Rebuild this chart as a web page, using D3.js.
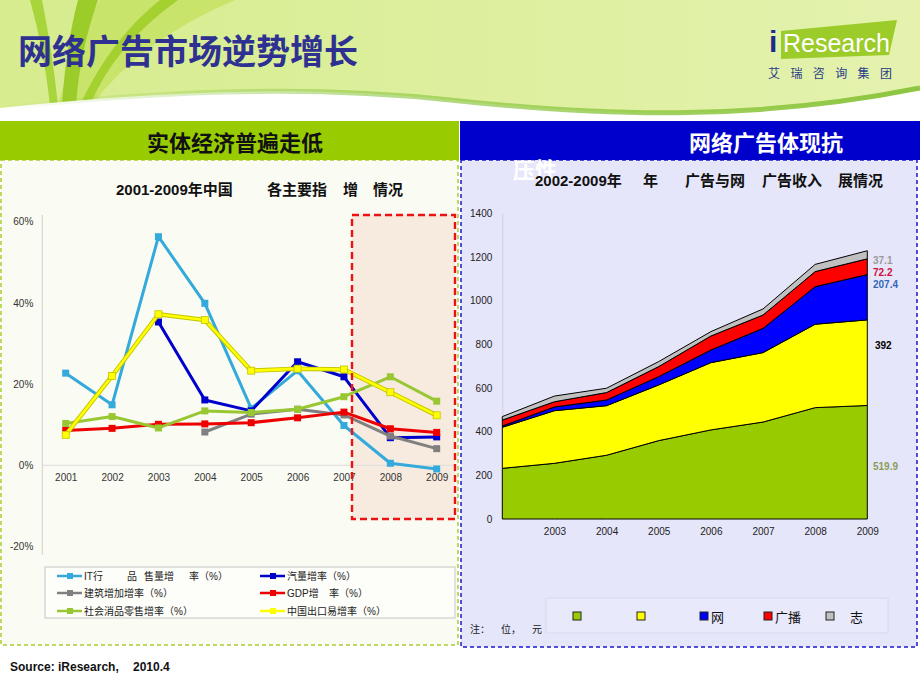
<!DOCTYPE html>
<html><head><meta charset="utf-8">
<script src="https://cdn.jsdelivr.net/npm/d3@7"></script>
<style>
body{margin:0;background:#fff}
svg{display:block}
text{font-family:"Liberation Sans","Noto Sans CJK SC",sans-serif}
.cjk{font-family:"Noto Sans CJK SC","Liberation Sans",sans-serif}
</style>
</head><body>
<svg id="c" width="920" height="690"></svg>
<script>
// ---------- data ----------
const leftYears = ["2001","2002","2003","2004","2005","2006","2007","2008","2009"];
const itSales      = [22.7, 14.9, 56.3, 39.9, 14.0, 23.3, 9.8, 0.5, -0.9];
const autoGrowth   = [null, null, 35.3, 16.1, 13.4, 25.5, 21.8, 6.8, 7.0];
const construction = [null, null, null, 8.2, 12.6, 13.8, 12.4, 7.2, 4.1];
const gdpGrowth    = [8.6, 9.1, 10.1, 10.2, 10.5, 11.7, 13.1, 9.0, 8.1];
const retailGrowth = [10.3, 12.0, 9.2, 13.4, 13.0, 13.8, 16.9, 21.8, 15.8];
const exportGrowth = [7.5, 22.0, 37.2, 35.8, 23.3, 23.8, 23.6, 18.0, 12.3];
const leftTicks = [-20, 0, 20, 40, 60];
const leftSeriesNames = ["IT行\u3000\u3000品\u3000售量增\u3000率（%）","汽量增率（%）","建筑增加增率（%）","GDP增\u3000率（%）","社会消品零售增率（%）","中国出口易增率（%）"];

const rightYears = ["2002","2003","2004","2005","2006","2007","2008","2009"];
const tvRevenue       = [232, 255, 292, 359, 408, 444, 510, 519.9];
const paperRevenue    = [188, 241, 227, 255, 308, 318, 382, 392];
const onlineRevenue   = [6, 17, 26, 38, 58, 111, 172, 207.4];
const radioRevenue    = [27, 24, 34, 46, 64, 61, 69, 72.2];
const magazineRevenue = [16, 26, 20, 23, 20, 28, 33, 37.1];
const rightTicks = [0, 200, 400, 600, 800, 1000, 1200, 1400];
const rightLegendNames = ["", "", "网", "广播", "\u3000志"];
const endLabels = ["519.9", "392", "207.4", "72.2", "37.1"];

// ---------- canvas ----------
const svg = d3.select("#c");
const defs = svg.append("defs");
const hg = defs.append("linearGradient").attr("id","hg").attr("x1","0").attr("x2","1").attr("y1","0").attr("y2","0");
hg.append("stop").attr("offset","0").attr("stop-color","#d6ec8e");
hg.append("stop").attr("offset","1").attr("stop-color","#e4f2ae");
const cg = defs.append("linearGradient").attr("id","cg").attr("x1","0").attr("x2","1").attr("y1","0").attr("y2","0");
cg.append("stop").attr("offset","0").attr("stop-color","#8cc63f").attr("stop-opacity","0");
cg.append("stop").attr("offset","0.4").attr("stop-color","#8cc63f").attr("stop-opacity","0.6");
cg.append("stop").attr("offset","1").attr("stop-color","#8cc63f").attr("stop-opacity","1");

// header background
svg.append("rect").attr("x",0).attr("y",0).attr("width",920).attr("height",125).attr("fill","url(#hg)");
svg.append("path").attr("d","M100,0 L235,0 Q140,40 92,105 L58,105 Q75,40 100,0 Z").attr("fill","#c8e46a");
svg.append("path").attr("d","M30,0 L42,0 Q52,50 58,105 L50,105 Q44,50 30,0 Z").attr("fill","#a8d43c");
svg.append("path").attr("d","M78,0 L98,0 Q80,50 76,105 L62,105 Q66,45 78,0 Z").attr("fill","#9ccc2a");
svg.append("path").attr("d","M160,0 L178,0 Q115,45 90,105 L80,105 Q110,40 160,0 Z").attr("fill","#a4d030");
svg.append("path").attr("d","M0,108 C150,92 300,84 450,100 S750,122 920,88 L920,125 L0,125 Z").attr("fill","#ffffff");
svg.append("path").attr("d","M0,108 C150,92 300,84 450,100 S750,122 920,88").attr("fill","none")
  .attr("stroke","url(#cg)").attr("stroke-width",5);

// main title
svg.append("text").attr("class","cjk").attr("x",18).attr("y",49).attr("dominant-baseline","central")
  .attr("font-size",34).attr("font-weight","bold").attr("fill","#2e3192").text("网络广告市场逆势增长");

// logo
svg.append("path").attr("d","M781,31 L897,20 L889,55 L781,59 Z").attr("fill","#9ccc2a");
svg.append("text").attr("x",769).attr("y",52).attr("font-size",30).attr("font-weight","bold").attr("fill","#1f2a8c").text("i");
svg.append("text").attr("x",783).attr("y",52).attr("font-size",25).attr("fill","#ffffff").text("Research");
svg.append("text").attr("class","cjk").attr("x",768).attr("y",72).attr("dominant-baseline","central")
  .attr("font-size",12).attr("letter-spacing",10.4).attr("fill","#2a3a8a").text("艾瑞咨询集团");

// panels
svg.append("rect").attr("x",1).attr("y",160).attr("width",457).attr("height",485)
  .attr("fill","#fafbf2").attr("stroke","#a8cc30").attr("stroke-width",1.5).attr("stroke-dasharray","4,3");
svg.append("rect").attr("x",461).attr("y",160).attr("width",456).attr("height",487)
  .attr("fill","#e6e6fa").attr("stroke","#1a1acc").attr("stroke-width",1.5).attr("stroke-dasharray","4,3");
svg.append("rect").attr("x",0).attr("y",121).attr("width",459).attr("height",39).attr("fill","#99cc00");
svg.append("rect").attr("x",460).attr("y",121).attr("width",460).attr("height",39).attr("fill","#0000cc");
svg.append("text").attr("class","cjk").attr("x",235).attr("y",141).attr("text-anchor","middle").attr("dominant-baseline","central")
  .attr("font-size",22).attr("font-weight","bold").attr("fill","#111").text("实体经济普遍走低");
svg.append("text").attr("class","cjk").attr("x",766).attr("y",141).attr("text-anchor","middle").attr("dominant-baseline","central")
  .attr("font-size",22).attr("font-weight","bold").attr("fill","#fff").text("网络广告体现抗");
svg.append("text").attr("class","cjk").attr("x",513).attr("y",168).attr("dominant-baseline","central")
  .attr("font-size",22).attr("font-weight","bold").attr("fill","#fff").text("压性");

// helper for multi-piece text
function pieces(g, y, parts, attrs) {
  const t = g.append("text").attr("y", y).attr("dominant-baseline","central");
  Object.entries(attrs).forEach(([k,v]) => t.attr(k,v));
  parts.forEach(([x,s]) => t.append("tspan").attr("x",x).text(s));
  return t;
}

// ---------- left chart ----------
const L = svg.append("g");
pieces(L, 189, [[116,"2001-2009年中国"],[267,"各主要指"],[343,"增"],[373,"情况"]],
  {"font-size":15,"font-weight":"bold","fill":"#111"});

const xL = d3.scalePoint().domain(leftYears).range([65.7, 436.7]);
const yL = d3.scaleLinear().domain([-20, 60]).range([546.5, 221.7]);

// highlight box fill
L.append("rect").attr("x",352).attr("y",215).attr("width",103).attr("height",304).attr("fill","#f7ebdf");

const yAxL = L.append("g").attr("transform","translate(42.3,0)")
  .call(d3.axisLeft(yL).tickValues(leftTicks).tickFormat(d => d + "%").tickSize(0).tickPadding(9));
yAxL.select(".domain").attr("stroke","#cfcfcf").attr("d","M0,215V555");
yAxL.selectAll("text").attr("font-size",10).attr("fill","#333").attr("font-family","Liberation Sans");

L.append("line").attr("x1",42.3).attr("x2",455).attr("y1",yL(0)).attr("y2",yL(0)).attr("stroke","#dcdcdc");
const xAxL = L.append("g").attr("transform",`translate(0,${yL(0)})`)
  .call(d3.axisBottom(xL).tickSize(0).tickPadding(9));
xAxL.select(".domain").remove();
xAxL.selectAll("text").attr("font-size",10).attr("fill","#333").attr("font-family","Liberation Sans");

const leftSeries = [
  {vals: itSales, color: "#33a9dc"},
  {vals: autoGrowth, color: "#0000cc"},
  {vals: construction, color: "#808080"},
  {vals: gdpGrowth, color: "#ee0000"},
  {vals: retailGrowth, color: "#99c733"},
  {vals: exportGrowth, color: "#ffff00", edge: "#c4c400"}
];
const lineL = d3.line().defined(d => d.v != null).x(d => xL(d.year)).y(d => yL(d.v));
leftSeries.forEach(s => {
  const pts = leftYears.map((year, i) => ({year, v: s.vals[i]}));
  if (s.edge) {
    L.append("path").datum(pts).attr("d", lineL).attr("fill","none").attr("stroke", s.edge).attr("stroke-width",4.5).attr("stroke-linejoin","round");
  }
  L.append("path").datum(pts).attr("d", lineL).attr("fill","none").attr("stroke", s.color).attr("stroke-width", s.edge ? 2.6 : 3).attr("stroke-linejoin","round");
  L.selectAll(null).data(pts.filter(d => d.v != null)).enter().append("rect")
    .attr("x", d => xL(d.year) - 3.5).attr("y", d => yL(d.v) - 3.5).attr("width",7).attr("height",7)
    .attr("fill", s.color).attr("stroke", s.edge || "none").attr("stroke-width", s.edge ? 0.8 : 0);
});

// highlight box dashed border
L.append("rect").attr("x",352).attr("y",215).attr("width",103).attr("height",304)
  .attr("fill","none").attr("stroke","#ee1111").attr("stroke-width",2.4).attr("stroke-dasharray","7,4");

// left legend
L.append("rect").attr("x",45).attr("y",567).attr("width",410).attr("height",51).attr("fill","#fdfdf9").attr("stroke","#c4c4c4");
const legPos = [[57,576],[260,576],[57,593],[260,593],[57,611],[260,611]];
const legParts = [
  [[0,"IT行"],[43,"品"],[60,"售量增"],[105,"率（%）"]],
  [[0,leftSeriesNames[1]]],
  [[0,leftSeriesNames[2]]],
  [[0,"GDP增"],[42,"率（%）"]],
  [[0,leftSeriesNames[4]]],
  [[0,leftSeriesNames[5]]]
];
leftSeries.forEach((s, i) => {
  const [lx, ly] = legPos[i];
  L.append("line").attr("x1",lx).attr("x2",lx+25).attr("y1",ly).attr("y2",ly).attr("stroke", s.color).attr("stroke-width",2.5);
  L.append("rect").attr("x",lx+10).attr("y",ly-3).attr("width",6).attr("height",6).attr("fill",s.color);
  pieces(L, ly, legParts[i].map(([dx,str]) => [lx + 27 + dx, str]), {"font-size":10,"fill":"#222"});
});

// ---------- right chart ----------
const R = svg.append("g");
pieces(R, 180, [[535,"2002-2009年"],[643,"年"],[685,"广告与网"],[762,"广告收入"],[838,"展情况"]],
  {"font-size":15,"font-weight":"bold","fill":"#111"});

const xR = d3.scalePoint().domain(rightYears).range([502.3, 867.3]);
const yR = d3.scaleLinear().domain([0, 1400]).range([519, 213.3]);

const yAxR = R.append("g").attr("transform","translate(502.3,0)")
  .call(d3.axisLeft(yR).tickValues(rightTicks).tickFormat(d3.format("d")).tickSize(0).tickPadding(10));
yAxR.select(".domain").attr("stroke","#cfcfe0");
yAxR.selectAll("text").attr("font-size",10).attr("fill","#222").attr("font-family","Liberation Sans");

const xAxR = R.append("g").attr("transform","translate(0,519)")
  .call(d3.axisBottom(xR).tickValues(rightYears.slice(1)).tickSize(0).tickPadding(9));
xAxR.select(".domain").remove();
xAxR.selectAll("text").attr("font-size",10).attr("fill","#222").attr("font-family","Liberation Sans");

const keys = ["tv","paper","online","radio","magazine"];
const colors = ["#99cc00","#ffff00","#0000ff","#ff0000","#c0c0c0"];
const table = rightYears.map((year, i) => ({
  year, tv: tvRevenue[i], paper: paperRevenue[i], online: onlineRevenue[i], radio: radioRevenue[i], magazine: magazineRevenue[i]
}));
const stacked = d3.stack().keys(keys)(table);
const area = d3.area().x(d => xR(d.data.year)).y0(d => yR(d[0])).y1(d => yR(d[1]));
R.selectAll(null).data(stacked).enter().append("path")
  .attr("d", area).attr("fill", (d, i) => colors[i]).attr("stroke","#000").attr("stroke-width",1).attr("stroke-linejoin","round");

// end labels
const last = rightYears.length - 1;
const topY = yR(stacked[4][last][1]);
const labelYs = [
  (yR(stacked[0][last][0]) + yR(stacked[0][last][1])) / 2 + 4,
  (yR(stacked[1][last][0]) + yR(stacked[1][last][1])) / 2 - 17,
  topY + 34, topY + 22, topY + 10
];
const labelColors = ["#8a9e58","#000000","#3366b8","#d0103a","#9a9a9a"];
const labelXs = [873, 875, 873, 873, 873];
endLabels.forEach((s, i) => {
  R.append("text").attr("x", labelXs[i]).attr("y", labelYs[i]).attr("dominant-baseline","central")
    .attr("font-size",10).attr("font-weight","bold").attr("fill", labelColors[i]).text(s);
});

// right legend
R.append("rect").attr("x",546).attr("y",598).attr("width",342).attr("height",35).attr("fill","#e9e9fc").attr("stroke","#d8d8ee");
const sqX = [577, 641, 704, 768, 830];
colors.forEach((c, i) => {
  R.append("rect").attr("x", sqX[i]-4).attr("y", 612).attr("width",8).attr("height",8).attr("fill",c).attr("stroke","#222").attr("stroke-width",1);
  R.append("text").attr("class","cjk").attr("x", sqX[i]+7).attr("y",616).attr("dominant-baseline","central")
    .attr("font-size",13).attr("fill","#111").text(rightLegendNames[i]);
});
pieces(R, 629, [[470,"注："],[501,"位，"],[532,"元"]], {"font-size":10,"fill":"#222"});

// source
pieces(svg, 667, [[10,"Source: iResearch,"],[133,"2010.4"]], {"font-size":12,"font-weight":"bold","fill":"#111"});
</script>
</body></html>
